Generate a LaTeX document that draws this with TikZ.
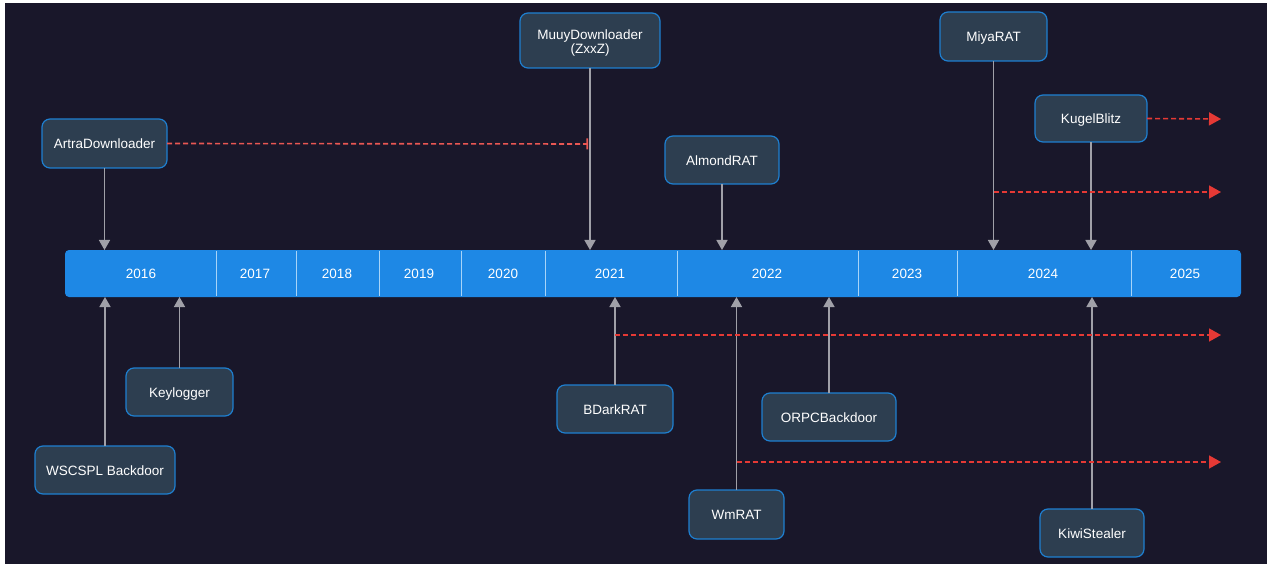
\documentclass[tikz,border=0pt]{standalone}
\usepackage{fontspec}
\setmainfont{Liberation Sans}
\usetikzlibrary{arrows.meta}
\definecolor{bg}{HTML}{19172A}
\definecolor{barblue}{HTML}{1E88E5}
\definecolor{boxfill}{HTML}{2D3E50}
\definecolor{boxline}{HTML}{1E7FD0}
\definecolor{linkgray}{HTML}{A0A0A8}
\definecolor{fwdred}{HTML}{E53935}
\definecolor{divline}{HTML}{A8D4F8}
\tikzset{
  evt/.style={draw=boxline, line width=1.2pt, fill=boxfill, rounded corners=8pt,
    text=white, font=\fontsize{13.5}{15}\selectfont, align=center, inner sep=0pt, outer sep=0pt,
    text height=11pt, text depth=0.5pt},
  yr/.style={text=white, font=\fontsize{13.5}{15}\selectfont, inner sep=0pt},
  link/.style={draw=linkgray, line width=1.5pt, -{Triangle[length=10pt,width=11pt]}},
  fwd/.style={draw=fwdred, line width=1.6pt, dash pattern=on 5pt off 3pt, -{Triangle[length=12pt,width=13pt]}},
  fwdstop/.style={draw=fwdred!85!white, line width=1.6pt, dash pattern=on 5pt off 3pt, -{Bar[width=11pt]}},
  divider/.style={draw=divline, line width=0.8pt}
}
\begin{document}
\begin{tikzpicture}[x=1pt,y=-1pt]
\useasboundingbox (0,0) rectangle (1269,564);
\fill[white] (0,0) rectangle (1269,564);
\fill[bg] (5,3) rectangle (1267,564);

% timeline bar
\node[fill=barblue, rounded corners=4pt, minimum width=1176pt, minimum height=47pt,
  inner sep=0pt, outer sep=0pt, anchor=north west] (bar) at (65,250) {};
\foreach \x in {216,296,379,461,545,677,858,957,1131}
  \draw[divider] (\x,251) -- (\x,296);
\node[yr] (y2016) at (141,274) {2016};
\node[yr] (y2017) at (255,274) {2017};
\node[yr] (y2018) at (337,274) {2018};
\node[yr] (y2019) at (419,274) {2019};
\node[yr] (y2020) at (503,274) {2020};
\node[yr] (y2021) at (610,274) {2021};
\node[yr] (y2022) at (767,274) {2022};
\node[yr] (y2023) at (907,274) {2023};
\node[yr] (y2024) at (1043,274) {2024};
\node[yr] (y2025) at (1185,274) {2025};

% events above
\node[evt, minimum width=125pt, minimum height=49pt] (artra) at (104.5,143.5) {ArtraDownloader};
\node[evt, minimum width=140pt, minimum height=55pt, text height=28pt, text depth=1.3pt] (muuy) at (590,40.5) {MuuyDownloader\\[-1pt](ZxxZ)};
\node[evt, minimum width=114pt, minimum height=48pt] (almond) at (722,160) {AlmondRAT};
\node[evt, minimum width=107pt, minimum height=49pt] (miya) at (993.5,36.5) {MiyaRAT};
\node[evt, minimum width=112pt, minimum height=47pt] (kugel) at (1091,118.5) {KugelBlitz};

% events below
\node[evt, minimum width=107pt, minimum height=48pt] (keylog) at (179.5,392) {Keylogger};
\node[evt, minimum width=140pt, minimum height=48pt] (wscspl) at (105,470) {WSCSPL Backdoor};
\node[evt, minimum width=116pt, minimum height=48pt] (bdark) at (615,409) {BDarkRAT};
\node[evt, minimum width=134pt, minimum height=48pt] (orpc) at (829,417) {ORPCBackdoor};
\node[evt, minimum width=95pt, minimum height=49pt] (wmrat) at (736.5,514.5) {WmRAT};
\node[evt, minimum width=104pt, minimum height=48pt] (kiwi) at (1092,533) {KiwiStealer};

% connectors to the timeline
\draw[link] (artra.south) -- (artra.south |- bar.north);
\draw[link] (muuy.south) -- (muuy.south |- bar.north);
\draw[link] (almond.south) -- (almond.south |- bar.north);
\draw[link] (miya.south) -- (miya.south |- bar.north);
\draw[link] (kugel.south) -- (kugel.south |- bar.north);
\draw[link] (wscspl.north) -- (wscspl.north |- bar.south);
\draw[link] (keylog.north) -- (keylog.north |- bar.south);
\draw[link] (bdark.north) -- (bdark.north |- bar.south);
\draw[link] (orpc.north) -- (orpc.north |- bar.south);
\draw[link] (wmrat.north) -- (wmrat.north |- bar.south);
\draw[link] (kiwi.north) -- (kiwi.north |- bar.south);

% red continuation lines
\coordinate (artraE) at (588,144);
\draw[fwdstop] (artra.east) -- (artraE);
\coordinate (kugelE) at (1221,119);
\draw[fwd] (kugel.east) -- (kugelE);
\coordinate (miyaS) at (993.5,192);
\coordinate (miyaE) at (1221,192);
\draw[fwd] (miyaS) -- (miyaE);
\coordinate (bdarkS) at (615,335);
\coordinate (bdarkE) at (1221,335);
\draw[fwd] (bdarkS) -- (bdarkE);
\coordinate (wmratS) at (736.5,462);
\coordinate (wmratE) at (1221,462);
\draw[fwd] (wmratS) -- (wmratE);
\end{tikzpicture}
\end{document}
